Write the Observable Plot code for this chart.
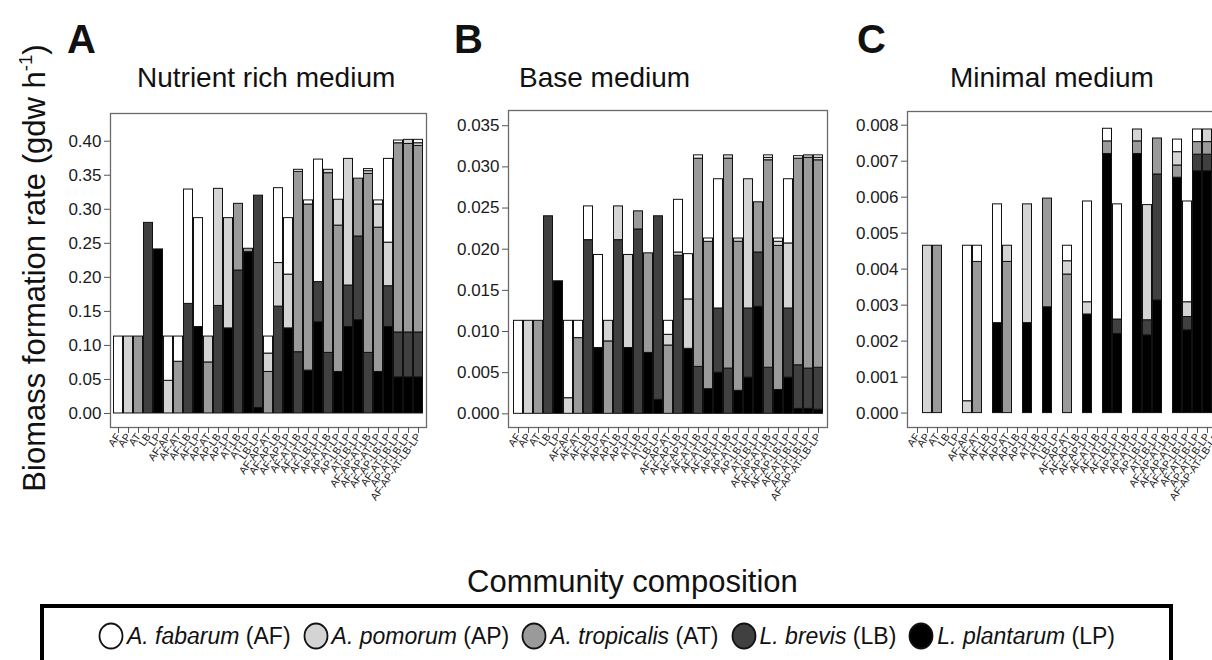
<!DOCTYPE html>
<html><head><meta charset="utf-8">
<script src="https://cdn.jsdelivr.net/npm/d3@7"></script>
<script src="https://cdn.jsdelivr.net/npm/@observablehq/plot@0.6"></script>
<style>
html,body{margin:0;padding:0;background:#fff;overflow:hidden;}
#fig{position:relative;width:1212px;height:660px;overflow:hidden;font-family:"Liberation Sans",Arial,sans-serif;color:#111;background:#fff;}
.abs{position:absolute;white-space:nowrap;}
.letter{font-weight:bold;font-size:40px;line-height:1;}
.ptitle{font-size:28px;line-height:1;}
.legend{position:absolute;left:40px;top:604px;width:1133px;height:80px;border:4px solid #000;box-sizing:border-box;display:flex;justify-content:center;align-items:flex-start;padding-top:14px;gap:12px;font-size:23px;}
.item{display:flex;align-items:center;gap:3px;}
.item svg{display:block;}
</style></head><body><div id="fig"></div>
<script>
// ---------------- data ----------------
const communities = ["AF","AP","AT","LB","LP",
  "AF-AP","AF-AT","AF-LB","AF-LP","AP-AT","AP-LB","AP-LP","AT-LB","AT-LP","LB-LP",
  "AF-AP-AT","AF-AP-LB","AF-AP-LP","AF-AT-LB","AF-AT-LP","AF-LB-LP","AP-AT-LB","AP-AT-LP","AP-LB-LP","AT-LB-LP",
  "AF-AP-AT-LB","AF-AP-AT-LP","AF-AP-LB-LP","AF-AT-LB-LP","AP-AT-LB-LP","AF-AP-AT-LB-LP"];
// stacking order, bottom to top
const stackOrder = ["LP","LB","AT","AP","AF"];
const speciesColors = {AF:"#ffffff", AP:"#d4d4d4", AT:"#9a9a9a", LB:"#404040", LP:"#000000"};
const legendOrder = ["AF","AP","AT","LB","LP"];
const legendNames = ["A. fabarum","A. pomorum","A. tropicalis","L. brevis","L. plantarum"];

// A: Nutrient rich medium
const richLP = [0,0,0,0,0.241, 0,0,0,0.127,0, 0,0.125,0,0.237,0.008, 0,0,0.125,0,0.063, 0.134,0,0.061,0.127,0.137, 0,0.061,0.127,0.053,0.053, 0.053];
const richLB = [0,0,0,0.280,0, 0,0,0.161,0,0, 0.158,0,0.210,0,0.312, 0,0.157,0,0.090,0, 0.059,0.089,0,0.061,0.123, 0.089,0,0.060,0.066,0.066, 0.066];
const richAT = [0,0,0.113,0,0, 0,0.076,0,0,0.075, 0,0,0.098,0.005,0, 0.061,0,0,0.265,0.244, 0,0.264,0.215,0,0.085, 0.263,0.212,0,0.278,0.277, 0.274];
const richAP = [0,0.113,0,0,0, 0.048,0,0,0,0.038, 0.172,0.162,0,0,0, 0.027,0.064,0.079,0,0, 0,0.005,0.038,0.186,0, 0.004,0.034,0.064,0,0.006, 0.004];
const richAF = [0.113,0,0,0,0, 0.065,0.037,0.168,0.160,0, 0,0,0,0,0, 0.025,0.110,0.083,0.003,0.006, 0.180,0,0,0,0, 0.003,0.006,0.123,0.004,0, 0.005];
const richTicks = [0,0.05,0.10,0.15,0.20,0.25,0.30,0.35,0.40];

// B: Base medium
const baseLP = [0,0,0,0,0.0161, 0,0,0,0.0080,0, 0,0.0080,0,0.0074,0.0017, 0,0,0.0079,0,0.0030, 0.0050,0,0.0028,0.0044,0.0130, 0,0.0029,0.0044,0.0006,0.0006, 0.0005];
const baseLB = [0,0,0,0.0240,0, 0,0,0.0211,0,0, 0.0211,0,0.0224,0,0.0223, 0,0.0192,0,0.0057,0, 0.0078,0.0055,0,0.0084,0.0066, 0.0056,0,0.0084,0.0053,0.0049, 0.0051];
const baseAT = [0,0,0.0113,0,0, 0,0.0092,0,0,0.0088, 0,0,0.0022,0.0121,0, 0.0083,0,0,0.0253,0.0179, 0,0.0255,0.0181,0,0.0061, 0.0252,0.0175,0,0.0251,0.0256, 0.0252];
const baseAP = [0,0.0113,0,0,0, 0.0019,0,0,0,0.0025, 0.0041,0.0113,0,0,0, 0.0013,0.0004,0.0060,0,0, 0,0.0004,0.0004,0.0157,0, 0.0003,0.0005,0.0079,0,0.0003, 0.0003];
const baseAF = [0.0113,0,0,0,0, 0.0094,0.0021,0.0041,0.0113,0, 0,0,0,0,0, 0.0017,0.0064,0.0055,0.0004,0.0004, 0.0157,0,0,0,0, 0.0003,0.0004,0.0078,0.0003,0, 0.0003];
const baseTicks = [0,0.005,0.010,0.015,0.020,0.025,0.030,0.035];

// C: Minimal medium
const minLP = [0,0,0,0,0, 0,0,0,0.0025,0, 0,0.0025,0,0.00294,0, 0,0,0.00274,0,0.0072, 0.0022,0,0.0072,0.00216,0.00313, 0,0.00654,0.0023,0.00672,0.00672, 0.0067];
const minLB = [0,0,0,0,0, 0,0,0,0,0, 0,0,0,0,0, 0,0,0,0,0, 0.0004,0,0,0.00042,0.0035, 0,0,0.00037,0.00046,0.00046, 0.00045];
const minAT = [0,0,0.00465,0,0, 0,0.0042,0,0,0.0042, 0,0,0,0.00302,0, 0.00385,0,0,0,0.00035, 0,0,0.00035,0,0.001, 0,0.00034,0,0.00035,0.00035, 0.00033];
const minAP = [0,0.00465,0,0,0, 0.00033,0,0,0,0.00045, 0,0.0033,0,0,0, 0.00037,0,0.00034,0,0, 0,0,0.00033,0.0032,0, 0,0.00037,0.00041,0,0.00035, 0.0003];
const minAF = [0,0,0,0,0, 0.00432,0.00045,0,0.0033,0, 0,0,0,0,0, 0.00043,0,0.0028,0,0.00035, 0.0032,0,0,0,0, 0,0.00035,0.0028,0.00035,0, 0.0003];
const minTicks = [0,0.001,0.002,0.003,0.004,0.005,0.006,0.007,0.008];

// ---------------- drawing ----------------
const fig = document.getElementById("fig");
const FONT = "'Liberation Sans', Arial, sans-serif";

function tidy(series) {
  const rows = [];
  communities.forEach((c, i) => {
    stackOrder.forEach(s => {
      const v = series[s][i];
      if (v > 0) rows.push({community: c, species: s, value: v});
    });
  });
  return rows;
}

function panel({series, ticks, fmt, domain, frameLeft, frameTop, frameWidth, frameHeight}) {
  const mL = 72, mR = 6, mT = 6, mB = 110;
  const chart = Plot.plot({
    width: mL + frameWidth + mR,
    height: mT + frameHeight + mB,
    marginLeft: mL, marginRight: mR, marginTop: mT, marginBottom: mB,
    style: {fontFamily: FONT, fontSize: "17px", color: "#1a1a1a", background: "transparent", overflow: "visible"},
    x: {type: "band", domain: communities, paddingInner: 0, paddingOuter: 0.18, label: null},
    y: {domain: domain, label: null},
    color: {domain: stackOrder, range: stackOrder.map(s => speciesColors[s])},
    marks: [
      Plot.barY(tidy(series), {x: "community", y: "value", fill: "species", stroke: "#111", strokeWidth: 1, insetLeft: 0.5, insetRight: 0.5}),
      Plot.frame({stroke: "#6a6a6a", strokeWidth: 1.3}),
      Plot.axisY({ticks: ticks, tickFormat: fmt, tickSize: 6, tickPadding: 3, fontSize: 17, stroke: "#555", label: null}),
      Plot.axisX({tickRotate: -55, tickSize: 6, tickPadding: 1, fontSize: 10.5, stroke: "#555", label: null})
    ]
  });
  chart.style.position = "absolute";
  chart.style.left = (frameLeft - mL) + "px";
  chart.style.top = (frameTop - mT) + "px";
  fig.appendChild(chart);
}

panel({series: {LP: richLP, LB: richLB, AT: richAT, AP: richAP, AF: richAF},
  ticks: richTicks, fmt: d3.format(".2f"), domain: [-0.0206, 0.4407],
  frameLeft: 110, frameTop: 113, frameWidth: 316, frameHeight: 314});
panel({series: {LP: baseLP, LB: baseLB, AT: baseAT, AP: baseAP, AF: baseAF},
  ticks: baseTicks, fmt: d3.format(".3f"), domain: [-0.00166, 0.03685],
  frameLeft: 508, frameTop: 110, frameWidth: 319, frameHeight: 317});
panel({series: {LP: minLP, LB: minLB, AT: minAT, AP: minAP, AF: minAF},
  ticks: minTicks, fmt: d3.format(".3f"), domain: [-0.0004, 0.00838],
  frameLeft: 907, frameTop: 111, frameWidth: 319, frameHeight: 316});

function addText(html, cls, left, top, extra) {
  const d = document.createElement("div");
  d.className = "abs " + cls;
  d.innerHTML = html;
  d.style.left = left + "px";
  d.style.top = top + "px";
  if (extra) Object.assign(d.style, extra);
  fig.appendChild(d);
  return d;
}
addText("A", "letter", 67, 19);
addText("B", "letter", 454, 19);
addText("C", "letter", 857, 19);
addText("Nutrient rich medium", "ptitle", 137, 64);
addText("Base medium", "ptitle", 519, 64);
addText("Minimal medium", "ptitle", 950, 64);
addText("Community composition", "ptitle", 467, 566, {fontSize: "31px"});
addText("Biomass formation rate (gdw h<sup style='font-size:0.6em;vertical-align:0.7em;line-height:0'>-1</sup>)", "ptitle",
  35 - 260, 268 - 16, {width: "520px", textAlign: "center", transform: "rotate(-90deg)", fontSize: "31px", height: "32px"});

// legend
const leg = document.createElement("div");
leg.className = "legend";
legendOrder.forEach((s, i) => {
  const it = document.createElement("div");
  it.className = "item";
  it.innerHTML = `<svg width="26" height="28"><ellipse cx="13" cy="14" rx="11.5" ry="12.5" fill="${speciesColors[s]}" stroke="#111" stroke-width="1.8"/></svg><span><i>${legendNames[i]}</i> (${s})</span>`;
  leg.appendChild(it);
});
fig.appendChild(leg);
</script>
</body></html>
